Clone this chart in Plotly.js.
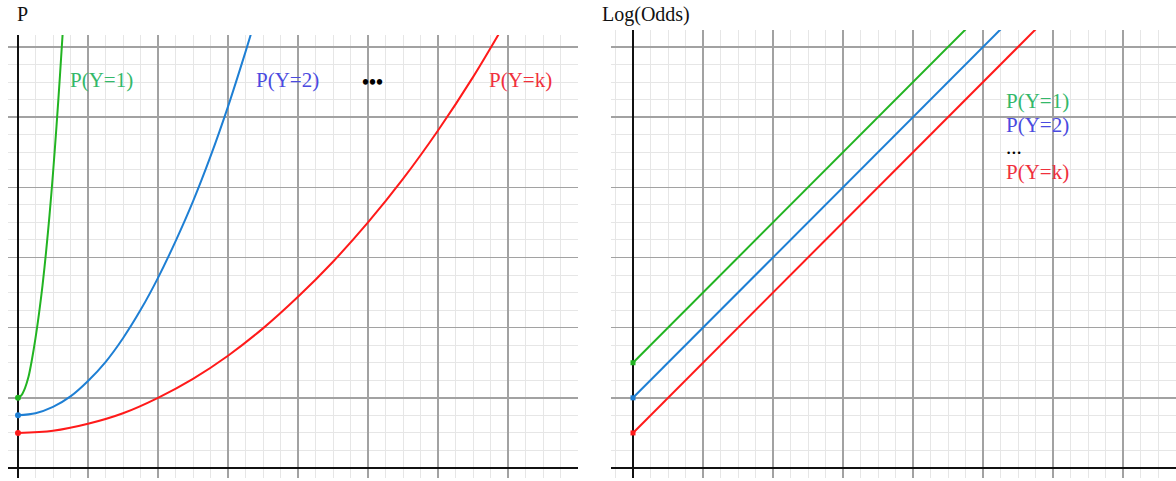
<!DOCTYPE html>
<html>
<head>
<meta charset="utf-8">
<script src="https://cdn.plot.ly/plotly-3.0.1.min.js"></script>
<style>html,body{margin:0;padding:0;background:#fff;}#chart{width:1176px;height:481px;}</style>
</head>
<body>
<div id="chart"></div>
<script>
// Left panel: probability curves
const greenPX = [0, 0.05, 0.1, 0.15, 0.2, 0.25, 0.3, 0.35, 0.4, 0.45, 0.5, 0.55, 0.6, 0.65];
const greenPY = [1.0, 1.04, 1.14, 1.3, 1.55, 1.85, 2.2, 2.6, 3.07, 3.6, 4.2, 4.87, 5.6, 6.38];
const bluePX = [0, 0.25, 0.5, 0.75, 1, 1.25, 1.5, 1.75, 2, 2.25, 2.5, 2.75, 3, 3.25, 3.5];
const bluePY = [0.75, 0.78, 0.87, 1.02, 1.24, 1.51, 1.85, 2.25, 2.71, 3.23, 3.8, 4.44, 5.15, 5.93, 6.75];
const redPX = [0, 0.5, 1, 1.5, 2, 2.5, 3, 3.5, 4, 4.5, 5, 5.5, 6, 6.5, 7];
const redPY = [0.5, 0.53, 0.63, 0.78, 1.0, 1.27, 1.6, 1.99, 2.44, 2.94, 3.5, 4.12, 4.81, 5.57, 6.41];
// Right panel: log-odds lines
const logitX = [0, 6];
const greenLY = [1.5, 7.5];
const blueLY = [1.0, 7.0];
const redLY = [0.5, 6.5];
// Labels
const seriesLabels = ['P(Y=1)', 'P(Y=2)', 'P(Y=k)'];
const panelTitles = ['P', 'Log(Odds)'];

const cGreen = '#22b422', cBlue = '#1e7fd4', cRed = '#ff1a1a';
const tGreen = '#33b86a', tBlue = '#4a4ae0', tRed = '#f0303c';

function curve(x, y, color, xa, ya, sym) {
  return [{
    x: x, y: y, xaxis: xa, yaxis: ya, mode: 'lines', type: 'scatter',
    line: {color: color, width: 2, shape: 'spline', smoothing: 0.9},
    hoverinfo: 'skip', showlegend: false
  }, {
    x: [x[0]], y: [y[0]], xaxis: xa, yaxis: ya, mode: 'markers', type: 'scatter',
    marker: {color: color, size: sym === 'square' ? 5 : 6, symbol: sym},
    hoverinfo: 'skip', showlegend: false
  }];
}

const data = [].concat(
  curve(greenPX, greenPY, cGreen, 'x', 'y', 'circle'),
  curve(bluePX, bluePY, cBlue, 'x', 'y', 'circle'),
  curve(redPX, redPY, cRed, 'x', 'y', 'circle'),
  curve(logitX, greenLY, cGreen, 'x2', 'y2', 'square'),
  curve(logitX, blueLY, cBlue, 'x2', 'y2', 'square'),
  curve(logitX, redLY, cRed, 'x2', 'y2', 'square')
);

const W = 1176, H = 481;
function ax(domain, range) {
  return {
    domain: domain, range: range, dtick: 1, tick0: 0,
    showgrid: true, gridcolor: '#a2a2a2', gridwidth: 1.4,
    minor: {dtick: 0.25, tick0: 0, showgrid: true, gridcolor: '#e6e6e6', gridwidth: 1},
    zeroline: true, zerolinecolor: '#111', zerolinewidth: 2.5,
    showticklabels: false, ticks: '', showline: false, fixedrange: true
  };
}
const U = 70.17;
const layout = {
  width: W, height: H,
  margin: {l: 0, r: 0, t: 0, b: 0},
  paper_bgcolor: '#fff', plot_bgcolor: '#fff',
  showlegend: false,
  font: {family: 'Liberation Serif, Times New Roman, serif', size: 21},
  xaxis: ax([8 / W, 578 / W], [(8 - 18) / 70, (578 - 18) / 70]),
  yaxis: ax([(H - 478) / H, (H - 35) / H], [(468 - 478) / U, (468 - 35) / U]),
  xaxis2: ax([611 / W, 1], [(611 - 633) / 70, (1176 - 633) / 70]),
  yaxis2: ax([(H - 478) / H, (H - 30) / H], [(468 - 478) / U, (468 - 30) / U]),
  annotations: [
    {text: panelTitles[0], xref: 'paper', yref: 'paper', x: 15 / W, y: (H - 14) / H, xanchor: 'left', yanchor: 'middle', showarrow: false, font: {size: 20, color: '#111'}},
    {text: panelTitles[1], xref: 'paper', yref: 'paper', x: 600 / W, y: (H - 15) / H, xanchor: 'left', yanchor: 'middle', showarrow: false, font: {size: 20, color: '#111'}},
    {text: seriesLabels[0], xref: 'x', yref: 'y', x: (68 - 18) / 70, y: (468 - 80) / U, xanchor: 'left', yanchor: 'middle', showarrow: false, font: {color: tGreen}},
    {text: seriesLabels[1], xref: 'x', yref: 'y', x: (254 - 18) / 70, y: (468 - 80) / U, xanchor: 'left', yanchor: 'middle', showarrow: false, font: {color: tBlue}},
    {text: '<b>•••</b>', xref: 'x', yref: 'y', x: (360 - 18) / 70, y: (468 - 82) / U, xanchor: 'left', yanchor: 'middle', showarrow: false, font: {color: '#000', size: 20}},
    {text: seriesLabels[2], xref: 'x', yref: 'y', x: (487 - 18) / 70, y: (468 - 80) / U, xanchor: 'left', yanchor: 'middle', showarrow: false, font: {color: tRed}},
    {text: seriesLabels[0], xref: 'x2', yref: 'y2', x: (1004 - 633) / 70, y: (468 - 101) / U, xanchor: 'left', yanchor: 'middle', showarrow: false, font: {color: tGreen}},
    {text: seriesLabels[1], xref: 'x2', yref: 'y2', x: (1004 - 633) / 70, y: (468 - 125) / U, xanchor: 'left', yanchor: 'middle', showarrow: false, font: {color: tBlue}},
    {text: '...', xref: 'x2', yref: 'y2', x: (1004 - 633) / 70, y: (468 - 147) / U, xanchor: 'left', yanchor: 'middle', showarrow: false, font: {color: '#000'}},
    {text: seriesLabels[2], xref: 'x2', yref: 'y2', x: (1004 - 633) / 70, y: (468 - 172) / U, xanchor: 'left', yanchor: 'middle', showarrow: false, font: {color: tRed}}
  ]
};
Plotly.newPlot('chart', data, layout, {displayModeBar: false, staticPlot: true});
</script>
</body>
</html>
